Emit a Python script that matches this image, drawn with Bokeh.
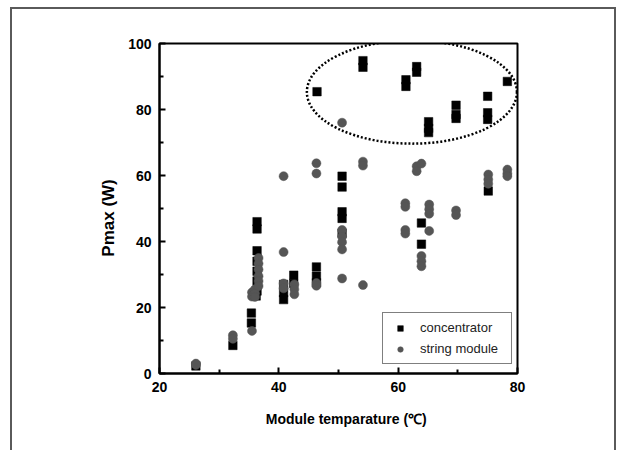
from bokeh.plotting import figure
from bokeh.models import FixedTicker, Legend, LegendItem
from bokeh.embed import file_html
from bokeh.resources import INLINE

# ---- data ----
conc_x = [26.1, 32.3, 35.4, 35.4, 36.2,
          36.35, 36.35, 36.35, 36.35, 36.35, 36.35, 36.35,
          40.8, 40.8, 40.8, 42.5, 42.5,
          46.4, 46.3, 46.3, 46.3,
          50.6, 50.6, 50.6, 50.6, 50.6,
          54.1, 54.1, 61.3, 61.3, 63.1, 63.1,
          63.9, 63.9, 65.1, 65.1, 65.1,
          69.7, 69.7, 69.7, 75.0, 75.0, 75.0, 75.1, 78.3]
conc_y = [2.3, 8.5, 15.3, 18.3, 23.5,
          46.0, 43.8, 37.2, 34.0, 31.0, 28.0, 25.0,
          27.0, 24.5, 22.4, 29.8, 27.3,
          85.4, 32.3, 29.5, 27.5,
          59.8, 56.5, 49.0, 47.0, 42.5,
          94.8, 92.8, 89.0, 87.0, 93.0, 91.3,
          45.6, 39.2, 76.3, 74.3, 73.0,
          81.3, 78.5, 77.3, 84.0, 79.0, 77.0, 55.3, 88.5]

str_x = [26.1, 26.1, 32.3, 32.3,
         35.5, 35.5, 35.5, 36.0, 36.0, 36.0,
         36.6, 36.6, 36.6, 36.6, 36.6, 36.6,
         40.8, 40.8, 40.8, 40.8, 42.6, 42.6, 42.6,
         46.3, 46.3, 46.3, 46.3,
         50.6, 50.6, 50.6, 50.6, 50.6, 50.6,
         54.1, 54.1, 54.1,
         61.2, 61.2, 61.2, 61.2, 63.1, 63.1, 63.9,
         63.9, 63.9, 63.9, 65.2, 65.2, 65.2, 65.2,
         69.7, 69.7, 75.1, 75.1, 75.1, 78.3, 78.3, 78.3]
str_y = [3.0, 2.6, 11.6, 10.5,
         12.9, 24.6, 23.3, 25.5, 24.3, 23.2,
         35.0, 33.3, 31.5, 29.5, 28.0, 26.5,
         59.8, 36.8, 27.3, 25.8, 27.0, 25.5, 24.0,
         63.7, 60.6, 27.4, 26.6,
         76.0, 43.5, 41.5, 39.8, 37.6, 28.8,
         64.2, 63.0, 26.8,
         51.6, 50.5, 43.5, 42.4, 62.8, 61.3, 63.6,
         35.6, 34.0, 32.5, 51.2, 49.8, 48.4, 43.2,
         49.4, 48.0, 60.3, 58.8, 57.5, 61.8, 60.6, 59.8]

x_ticks = [20, 40, 60, 80]
y_ticks = [0, 20, 40, 60, 80, 100]
x_minor = [30, 50, 70]
y_minor = [10, 30, 50, 70, 90]

ellipse_x = [62.3]
ellipse_y = [85.3]
ellipse_w = [35.2]
ellipse_h = [31.3]

FONT = "Liberation Sans"
NB = "\u00a0"

p = figure(width=618, height=450, output_backend="svg", toolbar_location=None,
           x_range=(20, 80), y_range=(0, 100),
           min_border_left=159, min_border_right=101,
           min_border_top=43, min_border_bottom=77)

# outer page frame drawn as CSS inset shadows (open at the bottom)
p.styles = {
    "box-shadow": ("inset 10px 0 0 0 #ffffff, inset -2px 0 0 0 #ffffff, "
                   "inset 0 7px 0 0 #ffffff, "
                   "inset 12px 0 0 0 #5a5a5a, inset -4px 0 0 0 #5a5a5a, "
                   "inset 0 9px 0 0 #5a5a5a"),
    "background-color": "#ffffff",
}

p.grid.visible = False
p.outline_line_color = "black"
p.outline_line_width = 2
p.outline_line_alpha = 1
p.background_fill_color = "white"
p.border_fill_color = None

p.xaxis.ticker = FixedTicker(ticks=x_ticks, minor_ticks=x_minor)
p.yaxis.ticker = FixedTicker(ticks=y_ticks, minor_ticks=y_minor)

for ax in (p.xaxis, p.yaxis):
    ax.axis_line_width = 2
    ax.axis_line_color = "black"
    ax.major_tick_in = 6
    ax.major_tick_out = 0
    ax.minor_tick_in = 4
    ax.minor_tick_out = 0
    ax.major_tick_line_width = 2
    ax.minor_tick_line_width = 2
    ax.major_tick_line_color = "black"
    ax.minor_tick_line_color = "black"
    ax.major_label_text_font = FONT
    ax.major_label_text_font_style = "bold"
    ax.major_label_text_font_size = "14px"
    ax.major_label_text_color = "black"
    ax.axis_label_text_font = FONT
    ax.axis_label_text_font_style = "bold"
    ax.axis_label_text_color = "black"

p.xaxis.major_label_standoff = 8
p.yaxis.major_label_standoff = 8
p.xaxis.axis_label = NB * 4 + "Module temparature (\u2103)"
p.xaxis.axis_label_text_font_size = "14px"
p.xaxis.axis_label_standoff = 16
p.yaxis.axis_label = "Pmax (W)" + NB * 4
p.yaxis.axis_label_text_font_size = "17px"
p.yaxis.axis_label_standoff = 7

r_conc = p.scatter(conc_x, conc_y, marker="square", size=8.5,
                   fill_color="black", line_color="black", line_width=0.5)
r_str = p.scatter(str_x, str_y, marker="circle", size=9,
                  fill_color="#555555", line_color="#555555", line_width=0.5)

p.ellipse(x=ellipse_x, y=ellipse_y, width=ellipse_w, height=ellipse_h,
          fill_color=None, line_color="black", line_width=2.5,
          line_dash="2 2")

legend = Legend(items=[LegendItem(label="concentrator", renderers=[r_conc]),
                       LegendItem(label="string module", renderers=[r_str])],
                location=(223, 9))
legend.label_text_font = FONT
legend.label_text_font_size = "13px"
legend.label_text_color = "#222222"
legend.glyph_width = 20
legend.glyph_height = 14
legend.label_height = 14
legend.label_width = 84
legend.spacing = 6
legend.padding = 7
legend.margin = 0
legend.label_standoff = 10
legend.border_line_color = "black"
legend.border_line_width = 1
legend.background_fill_color = "white"
legend.background_fill_alpha = 1
p.add_layout(legend)

open("out.html", "w").write(file_html(p, INLINE))
